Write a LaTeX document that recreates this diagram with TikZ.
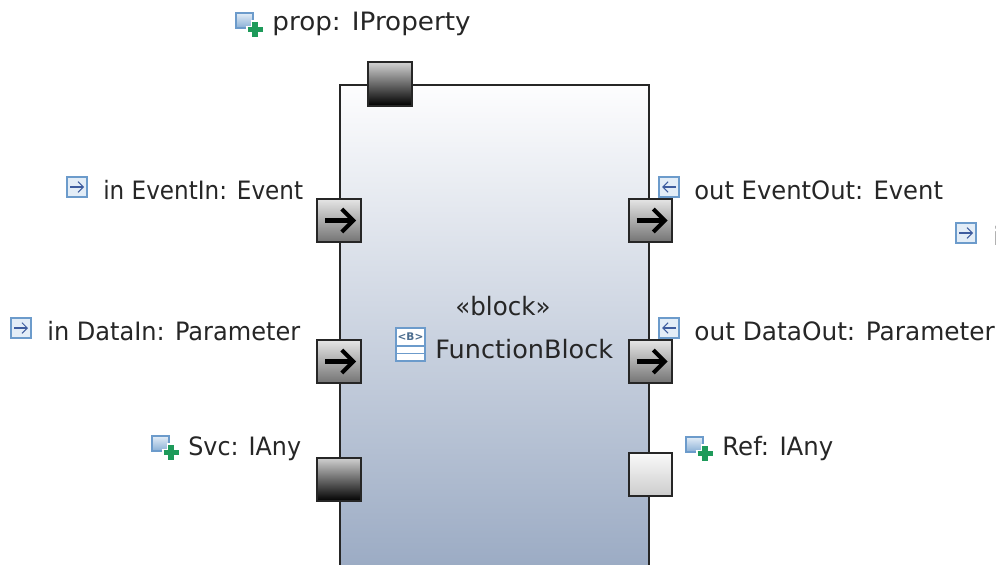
\documentclass[tikz,border=0pt]{standalone}
\usepackage{fontspec}
\setmainfont{DejaVu Sans}
\usetikzlibrary{arrows.meta, calc}
\definecolor{iconblue}{HTML}{6C9BCB}
\definecolor{iconfill}{HTML}{E3EDF7}
\definecolor{arrowblue}{HTML}{3E5C9E}
\definecolor{plusgreen}{HTML}{1E9A5A}
\definecolor{blocktop}{HTML}{FDFDFE}
\definecolor{blockbottom}{HTML}{9AAAC3}
\tikzset{
    txt/.style={anchor=base west, inner sep=0pt, font=\fontsize{14.4}{16}\selectfont, text=black!85, xscale=#1, transform shape},
    txt/.default=1,
    portbox/.style={draw=black!85, line width=1.3pt, minimum size=0.87cm, inner sep=0pt, shape=rectangle},
    portflow/.style={portbox, top color=black!10, bottom color=black!55},
    portdark/.style={portbox, top color=black!18, bottom color=black},
    portlight/.style={portbox, top color=black!2, bottom color=black!20},
    flowarrow/.style={-{Straight Barb[length=6.5pt, width=13pt, line width=2.3pt]}, line width=2.3pt, black},
    portin/.pic={
        \draw[iconblue, line width=1.2pt, fill=iconfill] (-10,-10) rectangle (10,10);
        \draw[arrowblue, line width=0.6pt, -{Straight Barb[length=3pt, width=6pt]}] (-7,0) -- (7,0);
    },
    portout/.pic={
        \draw[iconblue, line width=1.2pt, fill=iconfill] (-10,-10) rectangle (10,10);
        \draw[arrowblue, line width=0.6pt, -{Straight Barb[length=3pt, width=6pt]}] (7,0) -- (-7,0);
    },
    portprop/.pic={
        \shade[top color=iconfill, bottom color=iconblue!80, draw=iconblue, line width=1.1pt] (-12,-9) rectangle (5,6);
        \draw[white, line width=4.2pt] (7,-2) -- (7,17) (-2.5,7.5) -- (16.5,7.5);
        \draw[plusgreen, line width=3pt] (7,0) -- (7,15) (-0.5,7.5) -- (14.5,7.5);
    },
}
\begin{document}
\begin{tikzpicture}[x=0.02cm, y=-0.02cm]
    \useasboundingbox (0,0) rectangle (996,564);
    \clip (0,0) rectangle (996,564);
    % Block
    \node[draw=black!85, line width=1.3pt, top color=blocktop, bottom color=blockbottom, minimum width=6.18cm, minimum height=9.8cm, inner sep=0pt] (block) at (494.5,330) {};
    % Ports
    \node[portdark] (prop) at (390,84) {};
    \node[portflow] (eventin) at (339,220.5) {};
    \node[portflow] (datain) at (339,361.5) {};
    \node[portdark] (svc) at (339,479.5) {};
    \node[portflow] (eventout) at (650.5,220.5) {};
    \node[portflow] (dataout) at (650.5,361.5) {};
    \node[portlight] (ref) at (650.5,474.5) {};
    % Arrows
    \foreach \p in {eventin,datain,eventout,dataout} {
        \draw[flowarrow] ($(\p.center)+(-14,0)$) -- ($(\p.center)+(17,0)$);
    }
    % Icons
    \pic at (77,187) {portin};
    \pic at (21,328) {portin};
    \pic at (669,187) {portout};
    \pic at (669,328) {portout};
    \pic at (966,233) {portin};
    \pic at (248,22) {portprop};
    \pic at (164,445) {portprop};
    \pic at (698,446) {portprop};
    % Block icon
    \draw[iconblue, line width=1.2pt, fill=white] (396,328) rectangle (425,361);
    \draw[iconblue, line width=1.1pt] (396,346) -- (425,346) (396,353.5) -- (425,353.5);
    \node[inner sep=0pt, text=iconblue!70!black, font=\fontsize{6}{7}\selectfont\bfseries] (icontext) at (410.5,337) {<B>};
    % Labels
    \node[txt=1.037] (proplabel) at (272,31) {prop: IProperty};
    \node[txt=0.913] (eventinlabel) at (103,199) {in EventIn: Event};
    \node[txt=0.951] (datainlabel) at (47,340) {in DataIn: Parameter};
    \node[txt=0.94] (svclabel) at (188,455) {Svc: IAny};
    \node[txt=0.958] (eventoutlabel) at (694,199) {out EventOut: Event};
    \node[txt=0.98] (dataoutlabel) at (694,340) {out DataOut: Parameter};
    \node[txt=0.965] (reflabel) at (722,455) {Ref: IAny};
    \node[txt=0.97] (stereotype) at (455,315) {«block»};
    \node[txt=1.01] (blockname) at (435,358) {FunctionBlock};
    \node[txt] (cutlabel) at (993,245) {in};
\end{tikzpicture}
\end{document}
